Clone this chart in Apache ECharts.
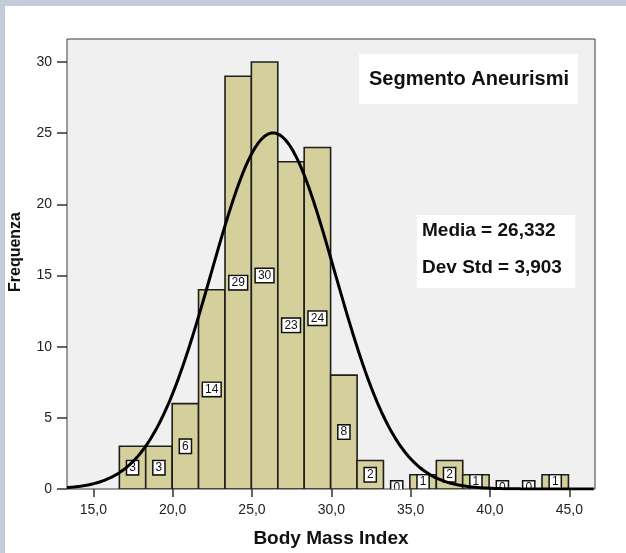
<!DOCTYPE html>
<html>
<head>
<meta charset="utf-8">
<script src="https://cdn.jsdelivr.net/npm/echarts@6/dist/echarts.min.js"></script>
<style>
html,body{margin:0;padding:0;background:#fff;}
#c{width:626px;height:553px;}
</style>
</head>
<body>
<div id="c"></div>
<script>
// ---- data ----
const binStarts = [16.64, 18.30, 19.97, 21.63, 23.30, 24.96, 26.63, 28.29, 29.96, 31.62, 33.29, 34.95, 36.62, 38.28, 39.95, 41.61, 43.28];
const binWidth = 1.665;
const counts = [3, 3, 6, 14, 29, 30, 23, 24, 8, 2, 0, 1, 2, 1, 0, 0, 1];
const xTicks = [15, 20, 25, 30, 35, 40, 45];
const yTicks = [0, 5, 10, 15, 20, 25, 30];
const meanBMI = 26.332;
const sdBMI = 3.903;
const nTotal = 147;
const chartTitle = 'Segmento Aneurismi';
const statLines = ['Media = 26,332', 'Dev Std = 3,903'];
const xMin = 13.34, xMax = 46.62, yMax = 31.62;

const histData = binStarts.map((s, i) => [s, s + binWidth, counts[i]]);

// fitted normal curve defined by the reported mean / std dev
const curve = [];
for (let x = xMin; x <= xMax + 1e-9; x += 0.1) {
  const z = (x - meanBMI) / sdBMI;
  curve.push([x, nTotal * binWidth / (sdBMI * Math.sqrt(2 * Math.PI)) * Math.exp(-0.5 * z * z)]);
}

const chart = echarts.init(document.getElementById('c'), null, {renderer: 'canvas'});
const fontFam = '"Liberation Sans", Arial, sans-serif';

chart.setOption({
  backgroundColor: '#ffffff',
  animation: false,
  grid: {
    left: 67, top: 39, right: 31, bottom: 64,
    outerBoundsMode: 'none',
    containLabel: false,
    show: true, backgroundColor: '#f0f0f0', borderColor: '#3a3a3a', borderWidth: 1
  },
  xAxis: {
    type: 'value', min: xMin, max: xMax,
    axisLine: {show: false},
    splitLine: {show: false},
    axisTick: {show: true, length: 8, customValues: xTicks, lineStyle: {color: '#333', width: 1.5}},
    axisLabel: {
      customValues: xTicks, margin: 14, fontSize: 14, color: '#222', fontFamily: fontFam,
      formatter: v => v.toFixed(1).replace('.', ',')
    },
    name: 'Body Mass Index', nameLocation: 'middle', nameGap: 40,
    nameTextStyle: {fontSize: 19, fontWeight: 'bold', color: '#111', fontFamily: fontFam}
  },
  yAxis: {
    type: 'value', min: 0, max: yMax,
    axisLine: {show: false},
    splitLine: {show: false},
    axisTick: {show: true, length: 10, customValues: yTicks, lineStyle: {color: '#333', width: 1.5}},
    axisLabel: {customValues: yTicks, margin: 15, fontSize: 14, color: '#222', fontFamily: fontFam},
    name: 'Frequenza', nameLocation: 'middle', nameGap: 43, nameRotate: 90,
    nameTextStyle: {fontSize: 16, fontWeight: 'bold', color: '#111', fontFamily: fontFam, padding: [0, 0, 0, 24]}
  },
  graphic: [
    {type: 'rect', left: 0, top: 0, z: 100, shape: {width: 626, height: 6}, style: {fill: '#c3ccd9'}},
    {type: 'rect', left: 0, top: 0, z: 100, shape: {width: 5, height: 553}, style: {fill: '#c3ccd9'}},
    {type: 'rect', left: 359, top: 54, z: 50, shape: {width: 219, height: 50}, style: {fill: '#ffffff'}},
    {type: 'text', left: 369, top: 69, z: 51, style: {text: chartTitle, font: 'bold 20px ' + fontFam, fill: '#111'}},
    {type: 'rect', left: 417, top: 215, z: 50, shape: {width: 158, height: 73}, style: {fill: '#ffffff'}},
    {type: 'text', left: 422, top: 221, z: 51, style: {text: statLines[0], font: 'bold 19px ' + fontFam, fill: '#111'}},
    {type: 'text', left: 422, top: 258, z: 51, style: {text: statLines[1], font: 'bold 19px ' + fontFam, fill: '#111'}}
  ],
  series: [
    {
      type: 'custom',
      clip: true,
      z: 2,
      data: histData,
      renderItem: function (params, api) {
        const s = api.value(0), e = api.value(1), c = api.value(2);
        const pTop = api.coord([s, c]);
        const pBot = api.coord([e, 0]);
        const children = [];
        if (c > 0) {
          children.push({
            type: 'rect',
            shape: {x: pTop[0], y: pTop[1], width: pBot[0] - pTop[0], height: pBot[1] - pTop[1]},
            style: {fill: '#d4cf9b', stroke: '#1e1e1e', lineWidth: 1.6}
          });
        }
        children.push({
          type: 'text',
          z2: 10,
          style: {
            text: String(c),
            x: (pTop[0] + pBot[0]) / 2,
            y: c > 0 ? (pTop[1] + pBot[1]) / 2 : pBot[1] - 1,
            align: 'center', verticalAlign: 'middle',
            font: '12px ' + fontFam, fill: '#111',
            backgroundColor: '#ffffff', borderColor: '#111', borderWidth: 1.5,
            padding: [1, 2, 0, 2]
          }
        });
        return {type: 'group', children: children};
      }
    },
    {
      type: 'line',
      data: curve,
      z: 5,
      symbol: 'none',
      smooth: true,
      clip: true,
      lineStyle: {color: '#000', width: 3},
      silent: true
    }
  ]
});
</script>
</body>
</html>
